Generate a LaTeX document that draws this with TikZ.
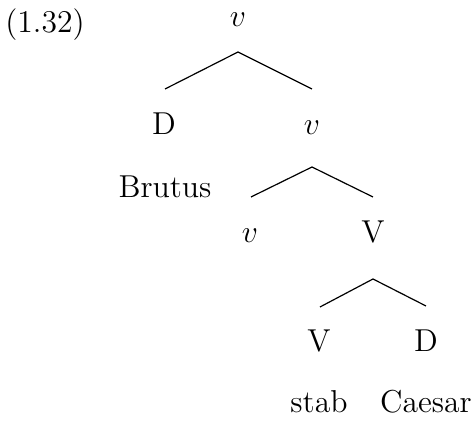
\documentclass[tikz,border=0pt]{standalone}
\begin{document}
\begin{tikzpicture}[x=0.5pt,y=-0.5pt,
  lbl/.style={anchor=base,inner sep=0pt,font=\fontsize{12}{14}\selectfont,scale=1.32},
  edge/.style={line width=0.6pt}]
\useasboundingbox (0,0) rectangle (473,421);
\node[lbl] (ex) at (45,33) {(1.32)};
\node[lbl] (r) at (238,27) {$v$};
\node[lbl] (d1) at (164,135) {D};
\node[lbl] (v2) at (312,135) {$v$};
\node[lbl] (brutus) at (165,198) {Brutus};
\node[lbl] (v3) at (250,243) {$v$};
\node[lbl] (V1) at (373,243) {V};
\node[lbl] (V2) at (319,352) {V};
\node[lbl] (d2) at (426,352) {D};
\node[lbl] (stab) at (319,413) {stab};
\node[lbl] (caesar) at (426,413) {Caesar};
\coordinate (t1) at (238,52);
\coordinate (l1) at (165,89);
\coordinate (r1) at (312,89);
\coordinate (t2) at (312,167);
\coordinate (l2) at (251,197);
\coordinate (r2) at (373,197);
\coordinate (t3) at (373,279);
\coordinate (l3) at (320,307);
\coordinate (r3) at (426,306);
\draw[edge] (l1) -- (t1) -- (r1);
\draw[edge] (l2) -- (t2) -- (r2);
\draw[edge] (l3) -- (t3) -- (r3);
\end{tikzpicture}
\end{document}
